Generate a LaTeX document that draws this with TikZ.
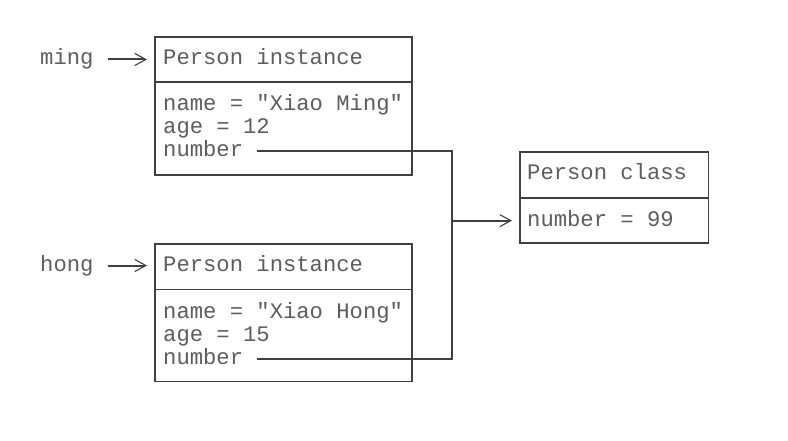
\documentclass[tikz,border=0pt]{standalone}
\usepackage{fontspec}
\setmainfont{Liberation Mono}[Ligatures=TeXOff]
\usetikzlibrary{arrows.meta}
\definecolor{ink}{HTML}{404040}
\begin{document}
\begin{tikzpicture}[x=1pt,y=-1pt,
  box/.style={draw=ink,line width=1.8pt,rectangle,inner sep=0pt,anchor=north west},
  txt/.style={text=ink!85,inner sep=0pt,anchor=base west,text height=16pt,text depth=5pt,font=\fontsize{22.2}{24}\selectfont},
  conn/.style={draw=ink,line width=2pt},
  arr/.style={conn,-{Straight Barb[length=11pt,width=12pt,line width=1.1pt]}}]
\fill[white] (0,0) rectangle (788,441);
\useasboundingbox (0,0) rectangle (788,441);
% boxes
\node[box,minimum width=257pt,minimum height=45.5pt] (h1) at (154,36) {};
\node[box,minimum width=257pt,minimum height=92.5pt] (b1) at (154,81.5) {};
\node[box,minimum width=257pt,minimum height=45.5pt] (h2) at (154,243) {};
\node[box,minimum width=257pt,minimum height=92pt] (b2) at (154,288.5) {};
\node[box,minimum width=188.5pt,minimum height=46pt] (hc) at (519,151) {};
\node[box,minimum width=188.5pt,minimum height=45.5pt] (bc) at (519,197) {};
% texts
\node[txt] (ming) at (40,65) {ming};
\node[txt] (t1) at (163,65) {Person instance};
\node[txt] (nm1) at (163,111) {name = "Xiao Ming"};
\node[txt] (ag1) at (163,134) {age = 12};
\node[txt] (n1) at (163,157) {number};
\node[txt] (hong) at (40,271) {hong};
\node[txt] (t2) at (163,271) {Person instance};
\node[txt] (nm2) at (163,318) {name = "Xiao Hong"};
\node[txt] (ag2) at (163,341) {age = 15};
\node[txt] (n2) at (163,364) {number};
\node[txt] (tc) at (527,180) {Person class};
\node[txt] (nc) at (527,226) {number = 99};
% connectors
\draw[arr] ([xshift=14pt]ming.east) -- ([xshift=-7pt]ming.east -| h1.west);
\draw[arr] ([xshift=14pt]hong.east) -- ([xshift=-7pt]hong.east -| h2.west);
\path (bc.west) ++(-67,0) coordinate (j);
\draw[conn] ([xshift=14pt]n1.east) -| (j);
\draw[conn] ([xshift=14pt]n2.east) -| (j);
\draw[arr] (j) -- ([xshift=-7pt]bc.west);
\end{tikzpicture}
\end{document}
